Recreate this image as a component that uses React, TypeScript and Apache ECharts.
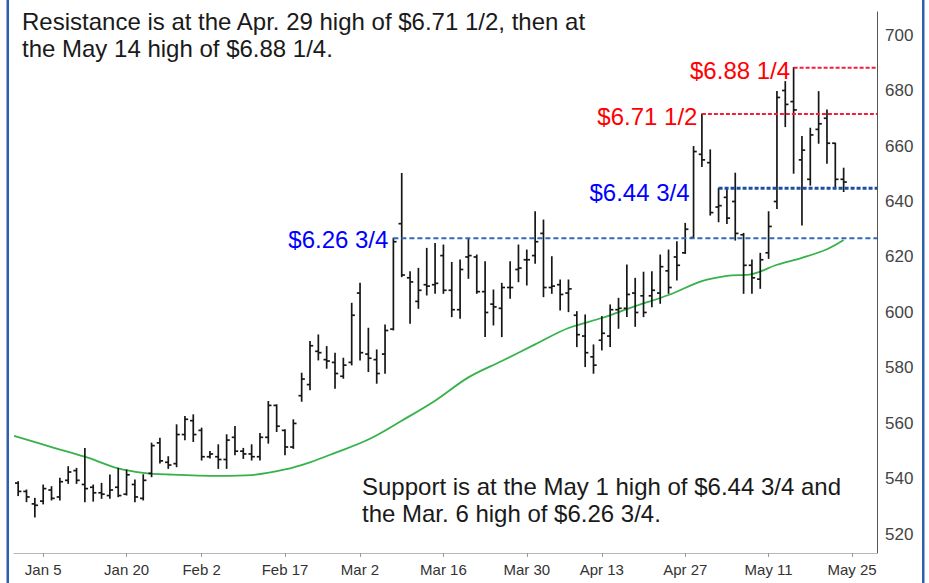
import React, { useEffect, useRef } from "react";
import * as echarts from "echarts";

// Bar index 0 = Dec 30; labelled trading days
const xTickIdx = [3, 13, 22, 32, 41, 51, 61, 70, 80, 90, 100];
const xTickLabels = ["Jan 5", "Jan 20", "Feb 2", "Feb 17", "Mar 2", "Mar 16", "Mar 30", "Apr 13", "Apr 27", "May 11", "May 25"];
const yTicks = [520, 540, 560, 580, 600, 620, 640, 660, 680, 700];

const opens = [
  538.5, 535.5, 531.0, 532.0, 536.0, 533.5, 539.5, 543.0, 538.0, 537.0,
  535.0, 534.0, 537.0, 534.5, 538.0, 533.0, 542.0, 553.0, 546.0, 545.5,
  556.0, 561.0, 557.5, 548.0, 548.0, 547.0, 555.0, 550.0, 549.0, 548.0,
  555.0, 566.5, 557.5, 551.5, 570.0, 574.0, 586.0, 583.0, 582.0, 577.0,
  582.0, 607.0, 585.0, 583.0, 585.0, 594.0, 632.0, 612.5, 604.0, 610.0,
  610.0, 620.5, 608.0, 601.0, 620.0, 620.0, 607.5, 603.0, 601.5, 609.0,
  615.5, 619.0, 620.5, 628.5, 609.0, 610.0, 607.0, 599.0, 591.5, 584.0,
  590.0, 591.5, 601.0, 601.5, 607.0, 606.0, 606.0, 607.0, 615.0, 620.0,
  621.5, 627.0, 657.0, 654.0, 638.0, 641.5, 640.0, 628.0, 617.0, 612.0,
  621.5, 640.0, 680.0, 676.0, 655.0, 648.0, 666.0, 670.0, 661.0, 648.0,
];
const highs = [
  539.0, 536.0, 533.0, 537.8, 537.2, 540.2, 544.4, 543.8, 551.0, 537.8,
  538.4, 541.4, 543.8, 543.2, 539.6, 541.5, 552.9, 554.7, 548.0, 559.5,
  562.5, 563.1, 558.3, 549.9, 552.3, 555.9, 558.9, 551.0, 552.3, 556.4,
  567.9, 566.7, 557.7, 561.3, 578.1, 589.5, 591.9, 587.7, 585.3, 583.5,
  603.3, 610.5, 594.3, 586.5, 595.5, 626.75, 650.1, 614.7, 615.9, 623.1,
  624.9, 624.3, 618.0, 618.9, 626.7, 620.7, 618.3, 608.1, 610.5, 618.3,
  624.3, 622.5, 636.3, 633.3, 620.1, 611.7, 611.7, 600.3, 599.1, 588.3,
  598.5, 602.7, 605.1, 617.1, 612.3, 614.5, 614.7, 620.7, 622.5, 625.5,
  632.1, 659.8, 671.5, 658.6, 644.75, 644.5, 650.2, 628.5, 618.9, 621.3,
  636.3, 679.6, 683.2, 688.25, 663.4, 666.4, 679.6, 673.0, 661.0, 652.0,
];
const lows = [
  534.0, 531.8, 526.3, 531.0, 532.4, 532.4, 538.4, 538.4, 531.8, 532.0,
  533.0, 533.0, 533.6, 534.2, 531.8, 532.4, 540.8, 545.7, 543.8, 544.4,
  554.1, 553.5, 546.8, 547.5, 543.8, 543.8, 548.7, 547.4, 546.8, 546.8,
  552.9, 557.1, 548.7, 551.0, 568.0, 572.1, 582.9, 579.9, 572.7, 576.3,
  581.1, 582.9, 578.7, 574.5, 578.1, 593.7, 612.9, 596.1, 601.5, 606.3,
  606.9, 606.9, 598.5, 597.9, 612.3, 606.9, 591.3, 595.5, 591.3, 605.1,
  611.1, 609.9, 617.7, 605.7, 606.9, 600.9, 600.3, 587.7, 580.5, 578.1,
  586.5, 587.7, 594.3, 598.5, 595.0, 598.5, 602.1, 603.3, 606.9, 611.7,
  621.3, 626.7, 652.6, 635.1, 632.7, 632.1, 626.1, 606.9, 606.9, 608.7,
  619.5, 637.5, 667.0, 650.2, 631.5, 645.9, 661.0, 653.8, 645.4, 643.6,
];
const closes = [
  535.5, 533.5, 530.5, 536.5, 533.0, 539.0, 542.5, 539.5, 536.5, 535.0,
  534.5, 536.0, 534.0, 541.5, 533.5, 539.5, 552.0, 546.5, 545.0, 556.0,
  561.5, 556.0, 548.0, 549.0, 547.0, 554.0, 550.0, 549.0, 548.0, 555.0,
  566.5, 559.0, 551.5, 560.0, 576.0, 588.0, 585.5, 582.5, 578.0, 581.0,
  599.0, 585.5, 583.5, 578.0, 593.5, 625.5, 613.5, 611.0, 608.0, 609.5,
  610.5, 608.0, 601.0, 615.5, 620.5, 607.5, 600.0, 602.0, 609.0, 609.0,
  616.0, 619.0, 625.5, 609.0, 609.5, 606.5, 608.5, 592.0, 585.5, 581.0,
  592.5, 601.0, 601.5, 606.5, 600.0, 600.0, 608.0, 616.5, 609.0, 617.0,
  630.0, 658.0, 655.0, 636.0, 638.5, 634.0, 628.5, 617.0, 612.5, 619.0,
  631.0, 677.5, 675.0, 673.0, 658.5, 664.0, 668.0, 661.0, 648.0, 647.0,
];

// Moving average (green), read at selected bar positions
const maIdx = [-0.5, 4, 8, 12, 15, 18, 24, 28, 32, 35, 38, 42, 46, 50, 54, 58, 62, 66, 70, 74, 78, 82, 85, 88, 91, 94, 97, 99];
const maValues = [555.5, 551.5, 548.0, 543.8, 542.2, 541.6, 541.1, 541.4, 543.4, 546.0, 549.4, 554.2, 561.0, 568.2, 576.6, 582.5, 588.5, 594.4, 598.0, 602.3, 606.3, 611.3, 613.2, 613.8, 617.2, 619.7, 622.8, 626.1];

// Support / resistance levels
const levelValues = [626.75, 644.75, 671.5, 688.25];
const levelLabels = ["$6.26 3/4", "$6.44 3/4", "$6.71 1/2", "$6.88 1/4"];
const levelStartIdx = [45, 84, 82, 93];
const X_MAX = 103;

const resistanceText = "Resistance is at the Apr. 29 high of $6.71 1/2, then at\nthe May 14 high of $6.88 1/4.";
const supportText = "Support is at the May 1 high of $6.44 3/4 and\nthe Mar. 6 high of $6.26 3/4.";

export default function App() {
  const ref = useRef<HTMLDivElement>(null);
  useEffect(() => {
    const chart = echarts.init(ref.current!, null, { renderer: "svg" });
    const font = "'Liberation Sans', Arial, Helvetica, sans-serif";
    const ohlcData = opens.map((o, i) => [i, o, highs[i], lows[i], closes[i]]);
    const maData = maIdx.map((x, i) => [x, maValues[i]]);
    const levelStyles = [
      { color: "#2f6cb5", width: 1.8, type: [5, 3] },
      { color: "#1d4f9e", width: 3, type: [4, 2] },
      { color: "#f0203a", width: 2, type: [4, 2] },
      { color: "#f0203a", width: 2, type: [4, 2] },
    ];
    const labelColors = ["#0000ff", "#0000ff", "#ff0000", "#ff0000"];
    const labelDx = [-5, -29, -4.5, -3.5];
    const labelDy = [1, 4.5, 2, 3];

    const option: any = {
      animation: false,
      backgroundColor: "#ffffff",
      textStyle: { fontFamily: font },
      grid: { left: 14, right: 52, top: 12, bottom: 30 },
      xAxis: {
        type: "value",
        min: -0.5,
        max: X_MAX,
        splitLine: { show: false },
        axisLine: { show: true, onZero: false, lineStyle: { color: "#b8b8b8", width: 1 } },
        axisTick: { show: true, customValues: xTickIdx, length: 4, lineStyle: { color: "#999" } },
        axisLabel: {
          customValues: xTickIdx,
          formatter: (v: number) => xTickLabels[xTickIdx.indexOf(Math.round(v))] ?? "",
          color: "#333",
          fontSize: 15,
          margin: 9,
          fontFamily: font,
        },
      },
      yAxis: {
        type: "value",
        position: "right",
        min: 513.3,
        max: 708.3,
        splitLine: { show: false },
        axisLine: { show: true, onZero: false, lineStyle: { color: "#555", width: 1 } },
        axisTick: { show: false },
        axisLabel: {
          customValues: yTicks,
          color: "#444",
          fontSize: 17,
          margin: 8,
          fontFamily: font,
        },
      },
      series: [
        {
          type: "custom",
          name: "OHLC",
          data: ohlcData,
          encode: { x: 0, y: [1, 2, 3, 4] },
          renderItem: (params: any, api: any) => {
            const x = api.value(0);
            const po = api.coord([x, api.value(1)]);
            const ph = api.coord([x, api.value(2)]);
            const pl = api.coord([x, api.value(3)]);
            const pc = api.coord([x, api.value(4)]);
            const style = { stroke: "#161616", lineWidth: 1.7 };
            const w = 3.2;
            return {
              type: "group",
              children: [
                { type: "line", shape: { x1: ph[0], y1: ph[1] - 0.5, x2: pl[0], y2: pl[1] + 0.5 }, style },
                { type: "line", shape: { x1: po[0] - w, y1: po[1], x2: po[0], y2: po[1] }, style },
                { type: "line", shape: { x1: pc[0], y1: pc[1], x2: pc[0] + w, y2: pc[1] }, style },
              ],
            };
          },
          z: 3,
        },
        {
          type: "line",
          name: "MA",
          data: maData,
          symbol: "none",
          smooth: 0.35,
          lineStyle: { color: "#35b24a", width: 1.8 },
          z: 2,
        },
        ...levelValues.map((v, i) => ({
          type: "line",
          name: levelLabels[i],
          data: [[levelStartIdx[i], v], [X_MAX, v]],
          symbol: "none",
          lineStyle: levelStyles[i],
          z: 4,
        })),
      ],
    };
    chart.setOption(option);

    const graphics: any[] = [
      { type: "rect", shape: { x: 6.5, y: -2, width: 2.5, height: 590 }, style: { fill: "#2e5fae" }, z: 10 },
      { type: "rect", shape: { x: 922, y: -2, width: 2.5, height: 590 }, style: { fill: "#2e5fae" }, z: 10 },
      {
        type: "text",
        x: 22,
        y: 7.5,
        style: { text: resistanceText, fill: "#1a1a1a", fontSize: 24, fontFamily: font, lineHeight: 27, align: "left", verticalAlign: "top" },
        z: 10,
      },
      {
        type: "text",
        x: 362,
        y: 473.5,
        style: { text: supportText, fill: "#1a1a1a", fontSize: 24, fontFamily: font, lineHeight: 26.6, align: "left", verticalAlign: "top" },
        z: 10,
      },
    ];
    levelValues.forEach((v, i) => {
      const p = chart.convertToPixel({ xAxisIndex: 0, yAxisIndex: 0 }, [levelStartIdx[i], v]) as number[];
      graphics.push({
        type: "text",
        x: p[0] + labelDx[i],
        y: p[1] + labelDy[i],
        style: { text: levelLabels[i], fill: labelColors[i], fontSize: 24, fontFamily: font, align: "right", verticalAlign: "middle" },
        z: 10,
      });
    });
    chart.setOption({ graphic: graphics });

    return () => chart.dispose();
  }, []);
  return <div ref={ref} style={{ position: "absolute", left: 0, top: 0, width: 929, height: 583 }} />;
}
